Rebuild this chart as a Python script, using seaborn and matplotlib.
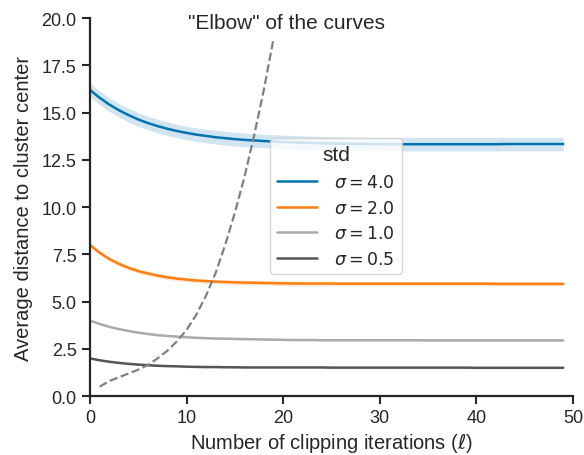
import numpy as np
import pandas as pd
import matplotlib
matplotlib.use("Agg")
import matplotlib.pyplot as plt
import seaborn as sns

# iterations 0..49
iters = list(range(50))

dist_s4 = [16.20, 15.79, 15.43, 15.13, 14.87, 14.64, 14.45, 14.29, 14.15, 14.03,
           13.93, 13.84, 13.77, 13.70, 13.65, 13.60, 13.56, 13.53, 13.50, 13.47,
           13.45, 13.43, 13.41, 13.40, 13.38, 13.37, 13.36, 13.35, 13.35, 13.34,
           13.34, 13.33, 13.33, 13.33, 13.33, 13.33, 13.33, 13.33, 13.33, 13.33,
           13.33, 13.33, 13.33, 13.34, 13.34, 13.34, 13.34, 13.34, 13.34, 13.34]
dist_s2 = [8.00, 7.59, 7.26, 7.00, 6.79, 6.62, 6.49, 6.38, 6.29, 6.22,
           6.17, 6.12, 6.09, 6.06, 6.04, 6.02, 6.01, 6.00, 5.99, 5.98,
           5.97, 5.96, 5.96, 5.96, 5.96, 5.96, 5.95, 5.95, 5.95, 5.95,
           5.95, 5.95, 5.95, 5.95, 5.95, 5.95, 5.95, 5.95, 5.95, 5.95,
           5.95, 5.95, 5.94, 5.94, 5.94, 5.94, 5.94, 5.94, 5.94, 5.94]
dist_s1 = [4.00, 3.82, 3.67, 3.55, 3.45, 3.36, 3.29, 3.23, 3.19, 3.15,
           3.12, 3.09, 3.07, 3.05, 3.04, 3.03, 3.02, 3.01, 3.00, 2.99,
           2.98, 2.97, 2.97, 2.97, 2.96, 2.96, 2.96, 2.96, 2.96, 2.96,
           2.96, 2.96, 2.96, 2.96, 2.96, 2.95, 2.95, 2.95, 2.95, 2.95,
           2.95, 2.95, 2.95, 2.95, 2.95, 2.95, 2.95, 2.95, 2.95, 2.95]
dist_s05 = [2.00, 1.90, 1.82, 1.76, 1.71, 1.67, 1.64, 1.61, 1.59, 1.58,
            1.56, 1.55, 1.54, 1.54, 1.53, 1.53, 1.52, 1.52, 1.52, 1.52,
            1.52, 1.52, 1.52, 1.52, 1.52, 1.51, 1.51, 1.51, 1.51, 1.51,
            1.51, 1.51, 1.51, 1.51, 1.51, 1.51, 1.51, 1.51, 1.51, 1.51,
            1.50, 1.50, 1.50, 1.50, 1.50, 1.50, 1.50, 1.50, 1.50, 1.50]

# half width of the confidence band for each std
band = {"4.0": 0.36, "2.0": 0.12, "1.0": 0.04, "0.5": 0.03}

# "elbow" dashed curve
elbow_x = [1, 2, 3, 4, 5, 6, 7, 8, 9, 10, 11, 12, 13, 14, 15, 16, 17, 18, 19]
elbow_y = [0.5, 0.8, 1.0, 1.2, 1.4, 1.65, 2.0, 2.4, 2.9, 3.5, 4.3, 5.3, 6.5,
           8.0, 9.7, 11.6, 13.8, 16.2, 18.9]

stds = ["4.0", "2.0", "1.0", "0.5"]
series = [dist_s4, dist_s2, dist_s1, dist_s05]
colors = ["#0173b2", "#ff7f0e", "#aaaaaa", "#555555"]

labels = [r"$\sigma = %s$" % s for s in stds]
rows = []
for lab, vals in zip(labels, series):
    for i, v in zip(iters, vals):
        rows.append((i, v, lab))
df = pd.DataFrame(rows, columns=["iter", "dist", "std"])

sns.set_theme(style="ticks")
plt.rcParams["font.family"] = ["Liberation Sans", "DejaVu Sans"]
plt.rcParams["mathtext.fontset"] = "dejavusans"

fig, ax = plt.subplots(figsize=(5.84, 4.56), dpi=100)
fig.subplots_adjust(left=0.154, right=0.981, bottom=0.129, top=0.958)

sns.lineplot(data=df, x="iter", y="dist", hue="std", hue_order=labels,
             palette=dict(zip(labels, colors)), linewidth=1.8, ax=ax)

for s, vals, c in zip(stds, series, colors):
    v = np.array(vals)
    ax.fill_between(iters, v - band[s], v + band[s], color=c, alpha=0.18,
                    linewidth=0)

ax.plot(elbow_x, elbow_y, linestyle="--", color="gray", linewidth=1.6)
ax.text(20.3, 19.75, '"Elbow" of the curves', ha="center", va="center",
        fontsize=15, color="#262626")

ax.set_xlim(0, 50)
ax.set_ylim(0, 20)
ax.set_xticks([0, 10, 20, 30, 40, 50])
ax.set_yticks([0, 2.5, 5, 7.5, 10, 12.5, 15, 17.5, 20])
ax.set_yticklabels(["0.0", "2.5", "5.0", "7.5", "10.0", "12.5", "15.0", "17.5", "20.0"])
ax.set_xlabel(r"Number of clipping iterations ($\ell$)", fontsize=14.5, labelpad=3)
ax.set_ylabel("Average distance to cluster center", fontsize=14.5, labelpad=6)
ax.tick_params(labelsize=13, width=1.5, length=6, color="#262626")
for sp in ["left", "bottom"]:
    ax.spines[sp].set_linewidth(1.6)
    ax.spines[sp].set_color("#262626")
sns.despine(ax=ax)

leg = ax.legend(title="std", loc="upper left", bbox_to_anchor=(0.355, 0.705),
                fontsize=12.5, title_fontsize=15, handlelength=2.3,
                handletextpad=1.0)
for ln in leg.get_lines():
    ln.set_linewidth(1.8)

fig.savefig("out.png", dpi=100)
